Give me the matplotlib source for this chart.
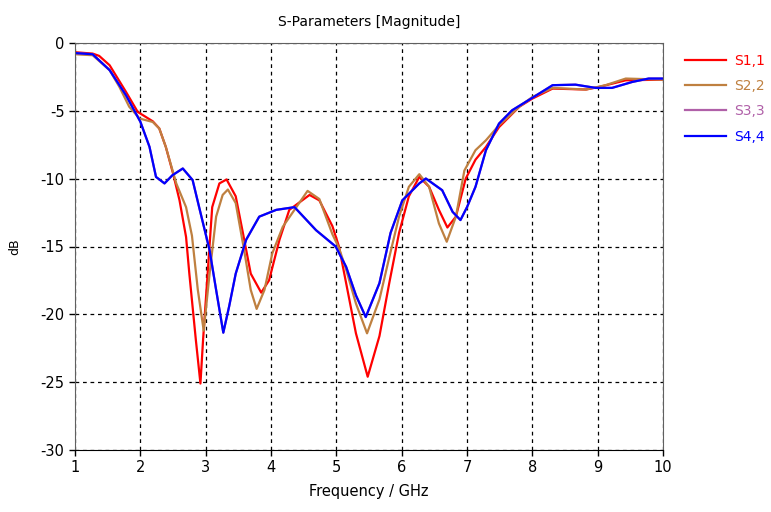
# S-parameter magnitude plot

import numpy as np
import matplotlib
matplotlib.use('Agg')
import matplotlib.pyplot as plt

plt.rcParams['axes.unicode_minus'] = False

# values (GHz, dB)
s11_f = [1.0, 1.27, 1.37, 1.53, 1.78, 1.96, 2.19, 2.29, 2.39, 2.5, 2.6, 2.7, 2.75, 2.85, 2.92, 2.96, 3.03,
         3.1, 3.21, 3.32, 3.46, 3.57, 3.69, 3.85, 3.97, 4.13, 4.28, 4.59, 4.74, 4.94, 5.04, 5.15,
         5.3, 5.48, 5.66, 5.81, 5.96, 6.11, 6.27, 6.42, 6.57, 6.7, 6.83, 6.98, 7.13, 7.29, 7.49,
         7.8, 8.0, 8.31, 8.82, 9.02, 9.43, 10.0]
s11_db = [-0.68, -0.78, -0.95, -1.64, -3.6, -5.08, -5.77, -6.3, -7.66, -9.6, -11.6, -14.3, -17.0, -21.9, -25.1, -21.9, -17.0,
          -12.1, -10.35, -10.06, -11.3, -14.0, -17.0, -18.4, -17.5, -14.5, -12.3, -11.2, -11.6, -13.5, -15.0, -17.7,
          -21.4, -24.6, -21.6, -17.7, -14.0, -11.3, -9.87, -10.6, -12.3, -13.6, -12.8, -10.0, -8.6, -7.66, -6.2,
          -4.7, -4.1, -3.36, -3.43, -3.24, -2.75, -2.7]

s22_f = [1.0, 1.27, 1.53, 1.68, 1.83, 1.99, 2.19, 2.29, 2.39, 2.55, 2.7, 2.79, 2.88, 2.97, 3.06, 3.16,
         3.26, 3.34, 3.46, 3.59, 3.69, 3.78, 3.9, 4.02, 4.18, 4.56, 4.74, 4.94, 5.04, 5.15, 5.3,
         5.47, 5.66, 5.81, 5.96, 6.11, 6.27, 6.42, 6.57, 6.69, 6.83, 6.96, 7.13, 7.29, 7.49, 7.8,
         8.0, 8.31, 8.82, 9.12, 9.43, 10.0]
s22_db = [-0.83, -0.9, -2.0, -3.24, -4.7, -5.57, -5.82, -6.3, -7.66, -10.35, -12.1, -14.2, -18.2, -21.2, -17.0, -12.8,
          -11.2, -10.8, -11.8, -15.3, -18.2, -19.6, -18.2, -15.5, -13.55, -10.9, -11.5, -14.1, -15.1, -16.7, -19.2,
          -21.4, -18.9, -15.8, -12.8, -10.6, -9.67, -10.6, -13.3, -14.65, -12.8, -9.4, -7.9, -7.17, -6.06, -4.7,
          -3.98, -3.31, -3.43, -3.11, -2.62, -2.7]

s44_f = [1.0, 1.27, 1.53, 1.78, 2.0, 2.14, 2.24, 2.37, 2.49, 2.65, 2.8, 2.9, 3.06, 3.16, 3.27, 3.36,
         3.46, 3.62, 3.82, 4.08, 4.36, 4.69, 4.99, 5.15, 5.3, 5.45, 5.66, 5.83, 6.01, 6.27, 6.37,
         6.62, 6.78, 6.9, 7.0, 7.13, 7.29, 7.49, 7.69, 7.98, 8.31, 8.66, 8.97, 9.22, 9.53, 9.78, 10.0]
s44_db = [-0.74, -0.83, -2.0, -3.85, -5.8, -7.65, -9.87, -10.35, -9.75, -9.25, -10.1, -12.1, -15.27, -18.2, -21.35, -19.4,
          -17.0, -14.5, -12.8, -12.3, -12.1, -13.8, -15.0, -16.5, -18.6, -20.2, -17.7, -14.0, -11.6, -10.35, -9.99,
          -10.85, -12.45, -13.05, -12.1, -10.6, -7.9, -5.94, -4.96, -4.1, -3.11, -3.07, -3.31, -3.31, -2.87, -2.62, -2.62]

# S3,3 sits underneath S4,4 in the picture
s33_f = list(s44_f)
s33_db = list(s44_db)

labels = ['S1,1', 'S2,2', 'S3,3', 'S4,4']
colors = ['#ff0000', '#bf8040', '#b060a8', '#0000ff']

fig = plt.figure(figsize=(7.71, 5.12), dpi=100)
ax = fig.add_axes([75 / 771, 62 / 512, 588 / 771, 407 / 512])

series = [(s11_f, s11_db), (s22_f, s22_db), (s33_f, s33_db), (s44_f, s44_db)]
handles = []
for (f, db), lab, c in zip(series, labels, colors):
    h, = ax.plot(f, db, color=c, lw=1.6, label=lab, solid_joinstyle='round')
    handles.append(h)

ax.set_xlim(1, 10)
ax.set_ylim(-30, 0)
ax.set_xticks(np.arange(1, 11))
ax.set_yticks(np.arange(-30, 1, 5))
ax.grid(True, color='black', ls=(0, (3, 3)), lw=0.9)
ax.tick_params(direction='out', length=4, width=1, labelsize=10.5, colors='black')

for side in ['top', 'right']:
    ax.spines[side].set_color('#606060')
ax.spines['left'].set_color('#606060')
ax.spines['bottom'].set_color('black')

ax.set_title('S-Parameters [Magnitude]', fontsize=10, pad=12)
ax.set_xlabel('Frequency / GHz', fontsize=10.5, labelpad=6)
ax.set_ylabel('dB', fontsize=9, labelpad=14)

leg = fig.legend(handles, labels, loc='upper left', bbox_to_anchor=(679 / 771, 1 - 48 / 512),
                 frameon=False, fontsize=10, handlelength=3.0, handletextpad=0.6, labelspacing=0.82,
                 borderaxespad=0)
for txt, c in zip(leg.get_texts(), colors):
    txt.set_color(c)

fig.savefig('out.png', dpi=100)
